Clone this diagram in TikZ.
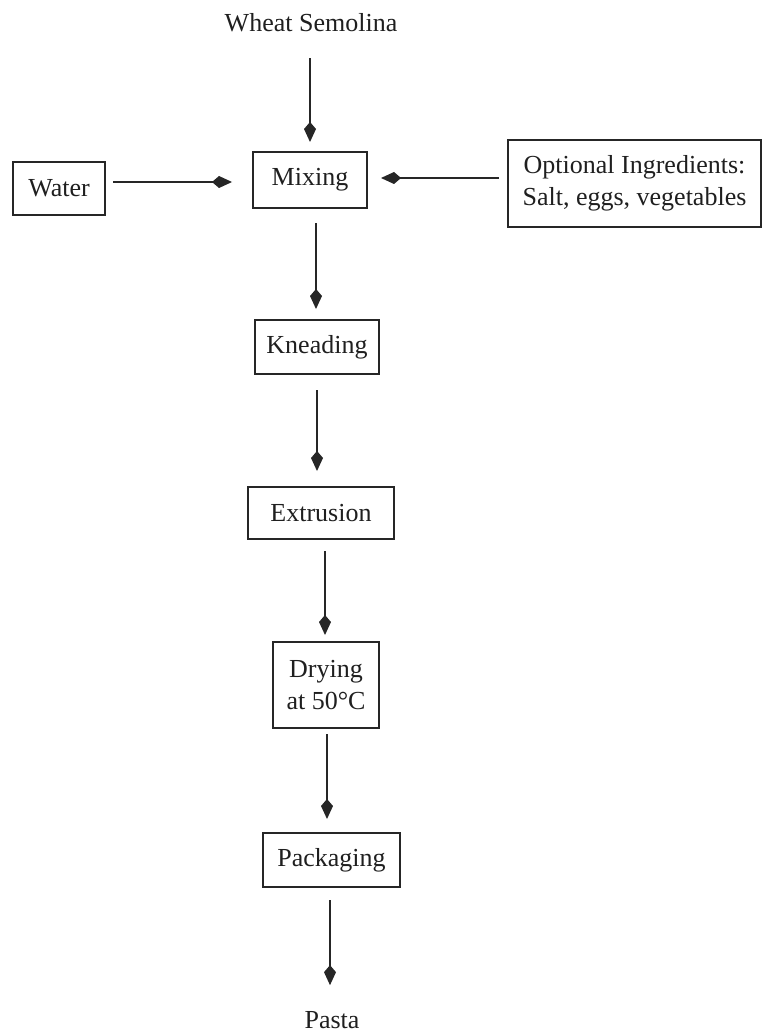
\documentclass[tikz,border=0pt]{standalone}
\usepackage{fontspec}
\setmainfont{Liberation Serif}
\usetikzlibrary{arrows.meta}
\begin{document}
\begin{tikzpicture}[x=1pt,y=-1pt,
  every node/.style={font=\fontsize{26}{32}\selectfont, text=black!88},
  stepbox/.style={draw=black!85, line width=2pt, inner sep=0pt, align=center},
  lbl/.style={inner sep=0pt},
  arr/.style={draw=black!85, line width=1.4pt, -{Kite[length=20pt,width=12pt,inset=7pt]}}]
\useasboundingbox (0,0) rectangle (763,1035);
\node[lbl] (wheat) at (311,23) {Wheat Semolina};
\node[stepbox, minimum width=114pt, minimum height=56pt] (mix) at (310,180) {Mixing};
\node[stepbox, minimum width=92pt, minimum height=53pt] (water) at (59,188.5) {Water};
\node[stepbox, minimum width=253pt, minimum height=87pt] (opt) at (634.5,183.5) {Optional Ingredients:\\Salt, eggs, vegetables};
\node[stepbox, minimum width=124pt, minimum height=54pt] (knead) at (317,347) {Kneading};
\node[stepbox, minimum width=146pt, minimum height=52pt] (extr) at (321,513) {Extrusion};
\node[stepbox, minimum width=106pt, minimum height=86pt] (dry) at (326,685) {Drying\\at 50°C};
\node[stepbox, minimum width=137pt, minimum height=54pt] (pack) at (331.5,860) {Packaging};
\node[lbl] (pasta) at (332,1020) {Pasta};
\draw[arr] ([shift={(-1,26)}]wheat.south) -- ([shift={(0,-9)}]mix.north);
\draw[arr] ([shift={(7,-6.5)}]water.east) -- ([shift={(-20,2)}]mix.west);
\draw[arr] ([shift={(-8,-5.5)}]opt.west) -- ([shift={(13,-2)}]mix.east);
\draw[arr] ([shift={(6,14)}]mix.south) -- ([shift={(-1,-10)}]knead.north);
\draw[arr] ([shift={(0,15)}]knead.south) -- ([shift={(-4,-15)}]extr.north);
\draw[arr] ([shift={(4,11)}]extr.south) -- ([shift={(-1,-6)}]dry.north);
\draw[arr] ([shift={(1,5)}]dry.south) -- ([shift={(-4.5,-13)}]pack.north);
\draw[arr] ([shift={(-1.5,12)}]pack.south) -- ([shift={(-2,-26)}]pasta.north);
\end{tikzpicture}
\end{document}
